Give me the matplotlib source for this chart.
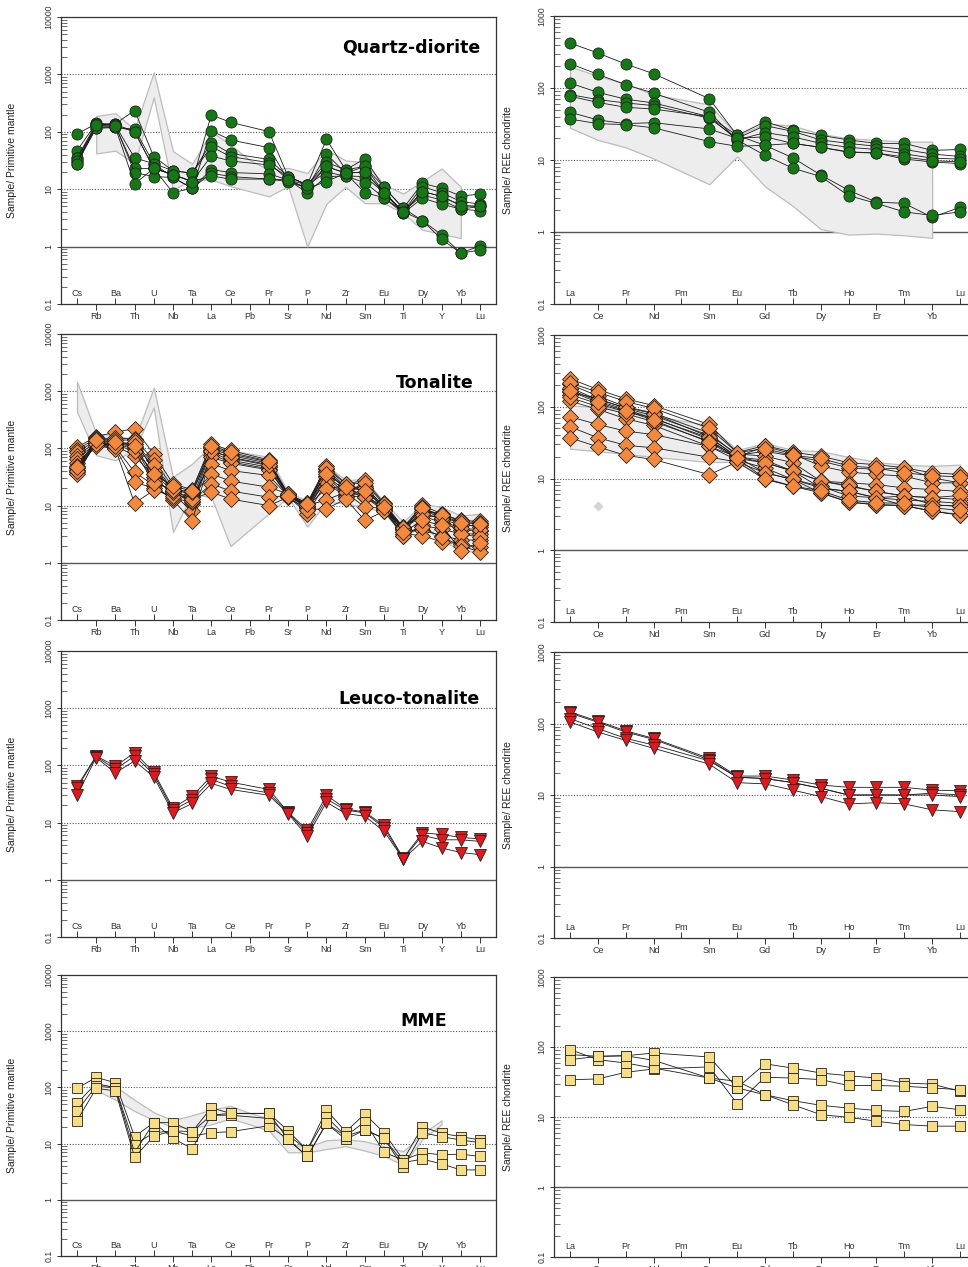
import matplotlib
matplotlib.use('Agg')
import matplotlib.pyplot as plt
import numpy as np

plt.rcParams['font.family'] = ['Liberation Sans', 'DejaVu Sans']

nan = np.nan

# element order on the x axes
spider_elements = ['Cs', 'Rb', 'Ba', 'Th', 'U', 'Nb', 'Ta', 'La', 'Ce', 'Pb', 'Pr',
                   'Sr', 'P', 'Nd', 'Zr', 'Sm', 'Eu', 'Ti', 'Dy', 'Y', 'Yb', 'Lu']
ree_elements = ['La', 'Ce', 'Pr', 'Nd', 'Pm', 'Sm', 'Eu', 'Gd', 'Tb', 'Dy', 'Ho',
                'Er', 'Tm', 'Yb', 'Lu']

# ---- Quartz-diorite ----
# spider: Cs Rb Ba Th U Nb Ta La Ce Pb Pr Sr P Nd Zr Sm Eu Ti Dy Y Yb Lu
qd_spider = [
    [31, 130, 135, 101, 23, 18, 13.6, 198, 146, nan, 101, 16.6, 11.9, 74, 21.7, 25, 10.8, 4.66, 2.84, 1.6, 0.77, 1.03],
    [28, 116, 119, 111, 28, 16, 10.4, 104, 72, nan, 53, 14.5, 10.4, 41, 19, 20, 8.7, 4.08, 2.84, 1.34, 0.77, 0.87],
    [92, 138, 138, 235, 37, 21, 19, 65, 42, nan, 33, 16.6, 11.9, 29.5, 21.7, 34, 10.8, 4.66, 12.7, 10.4, 7.6, 8.2],
    [47, 140, 130, 35, 28, 21, 19, 55, 37, nan, 29, 14.5, 10.4, 24.9, 19, 25, 8.7, 4.08, 11.1, 8.7, 6.1, 5.5],
    [35, 125, 125, 23, 23, 18, 13.6, 38, 31, nan, 26.5, 16.6, 11.9, 19.8, 17, 16.6, 8.7, 3.8, 9.1, 7.5, 5.2, 5.0],
    [35, 138, 130, 19.5, 16.6, 16, 10.4, 22, 19.5, nan, 18.5, 14.5, 8.7, 16.6, 17, 13, 7.1, 4.08, 7.9, 6.5, 4.5, 4.2],
    [31, 116, 119, 12.4, 23, 8.7, 10.4, 19, 16.6, nan, 15, 13.6, 10.4, 13.6, 19, 8.7, 7.1, 3.8, 7.0, 5.5, 4.5, 5.0],
    [28, 130, 125, 101, 23, 18, 13.6, 17, 15, nan, 15, 14.5, 11.9, 24.9, 19, 20, 8.7, 4.08, 9.1, 7.5, 5.2, 5.0],
]
qd_spider_upper = [nan, 189, 211, 110, 1086, 46, 27.7, 100, 60, 32, 22, 23.5, 19.2, 49, 31.7, 29.5, 12, 8.4, 13.7, 23, 11, nan]
qd_spider_lower = [nan, 42, 47, 28, 398, 9.8, 14.7, 14.7, 11.3, 9.2, 7.5, 11.3, 1.0, 5.6, 11, 5.7, 5.7, 3.8, 1.96, 1.67, 1.4, nan]

# REE: La Ce Pr Nd Pm Sm Eu Gd Tb Dy Ho Er Tm Yb Lu
qd_ree = [
    [422, 306, 215, 158, nan, 71, 22, 16, 10.7, 6.2, 3.8, 2.6, 2.5, 1.6, 2.2],
    [218, 155, 111, 85, nan, 46, 19, 11.6, 7.7, 5.9, 3.2, 2.5, 1.9, 1.7, 1.9],
    [117, 87, 70, 62, nan, 40, 22, 34, 26, 22, 19, 17, 17, 13.6, 14],
    [81, 69, 62, 57, nan, 38, 20, 30, 25, 19, 17, 15.5, 14, 12.1, 11.2],
    [77, 63, 54, 51, nan, 40, 19, 24, 21, 17, 15, 14, 12.2, 10.6, 10.3],
    [46, 36, 32, 33, nan, 27, 20, 21, 17, 15, 12.8, 12.5, 10.3, 9.4, 8.9],
    [37, 32, 31, 28, nan, 18, 15.5, 16, 17, 15, 13, 12.5, 11, 9.8, 9.4],
]
qd_ree_upper = [200, 147, 115, 81, nan, 59, 22, 32, 30, 23, 20, 19, 18, 18, nan]
qd_ree_lower = [28, 19, 15, 10.5, nan, 4.6, 11.2, 4.3, 2.3, 1.1, 0.92, 0.95, 0.9, 0.83, nan]

# ---- Tonalite ----
ton_spider = [
    [105, 160, 193, 221, 80, 24, 19, 120, 92, nan, 63, 16, 11, 50, 24, 27.6, 11, 4.2, 10.1, 7.2, 5.5, 5.3],
    [95, 150, 150, 148, 62, 21, 16, 106, 80, nan, 58, 15, 10.5, 44, 21, 20.5, 10, 4.0, 8.8, 6.5, 4.8, 4.2],
    [85, 140, 130, 120, 47, 18, 13, 100, 75, nan, 55, 15.5, 10, 40, 20, 22, 9.4, 4.1, 7.5, 5.9, 4.5, 4.5],
    [75, 130, 120, 98, 36, 18, 10.8, 95, 68, nan, 50, 16, 9.4, 38.6, 19.8, 20, 9.0, 3.9, 6.7, 5.0, 3.8, 3.6],
    [65, 125, 110, 75, 31.6, 16, 8, 86, 62, nan, 47, 15, 9.4, 33, 18, 14, 9, 3.0, 4.5, 3.9, 3.2, 3.2],
    [55, 120, 105, 38.6, 22.6, 12.7, 5.3, 78, 58, nan, 44, 14, 8.5, 31.6, 16, 16, 8.5, 3.7, 3.7, 3.0, 2.5, 2.5],
    [50, 118, 100, 25.8, 20, 13.5, 11.5, 70, 55, nan, 42, 15, 9.0, 28, 15, 14, 8.2, 3.2, 3.0, 2.3, 2.15, 1.88],
    [45, 112, 98, 11, 18.5, 15, 14, 54, 41, nan, 33.6, 14.5, 7.2, 25.8, 14, 20, 8.8, 3.5, 8.2, 7.2, 5.3, 5.0],
    [42, 145, 140, 140, 40, 20, 15, 36, 26.8, nan, 21, 16, 10, 19.8, 22, 14, 10, 4.0, 9.5, 5.5, 4.0, 3.8],
    [38, 135, 125, 105, 28, 17, 12, 24, 18, nan, 14, 15, 10, 12.7, 17, 9.4, 9.0, 4.2, 7.0, 6.0, 3.2, 2.8],
    [35, 128, 115, 90, 25, 19, 13, 17.2, 13, nan, 10, 14, 8.5, 8.8, 13, 5.5, 8.0, 3.0, 4.2, 2.8, 2.0, 1.54],
    [40, 120, 112, 130, 52, 19, 17, 90, 70, nan, 52, 16, 11, 45, 24, 25, 10.5, 4.1, 9.0, 6.8, 5.0, 4.8],
    [48, 140, 130, 110, 35, 22, 18, 112, 85, nan, 60, 15, 10.5, 36, 21, 18, 9.5, 3.4, 5.5, 4.5, 1.64, 2.2],
]
ton_spider_upper = [1459, 182, 170, 140, 1150, 31.6, 54, 113, 93, 81, 71, 17.3, 12, 50.5, 27.7, 29.5, 11.5, 5.2, 10.8, 9.4, 6.7, 7.2]
ton_spider_lower = [437, 76, 62, 95, 520, 3.45, 16, 14, 1.96, 3.8, 7.3, 14, 4.3, 11.6, 10.8, 9.4, 7.7, 3.0, 4.2, 2.5, 1.64, 1.54]

ton_ree = [
    [246, 174, 129, 104, nan, 56.6, 23, 28.8, 23.3, 20.5, 16.6, 15.6, 14.1, 12.0, 11.4],
    [205, 141, 100, 82, nan, 43, 21, 24, 20.5, 17.5, 14.1, 13.4, 14.1, 10.2, 8.7],
    [174, 120, 92, 68, nan, 37, 20, 28, 22, 14.9, 12.3, 11.4, 10.8, 8.7, 8.7],
    [160, 130, 95, 75, nan, 40, 22, 20.5, 16.6, 9.2, 8.7, 8.2, 7.4, 7.0, 6.6],
    [148, 110, 85, 70, nan, 35, 19, 16.6, 12.7, 9.2, 7.8, 6.6, 5.7, 5.4, 5.1],
    [185, 125, 98, 80, nan, 38, 20, 18, 12.7, 7.4, 6.6, 5.4, 4.2, 4.3, 4.1],
    [120, 92, 68, 55, nan, 28, 18, 14, 9.7, 6.3, 4.7, 4.3, 4.2, 3.5, 3.1],
    [135, 100, 80, 62, nan, 33, 20, 12, 9.7, 7.8, 5.7, 5.4, 5.0, 4.8, 4.5],
    [72.6, 56.6, 45.8, 41, nan, 28, 20, 16.6, 12.7, 9.2, 8.0, 6.6, 5.7, 5.4, 5.8],
    [52.6, 37, 29, 26.8, nan, 19.8, 17, 9.7, 7.8, 6.3, 4.7, 4.3, 4.2, 3.5, 3.1],
    [37, 27.6, 21, 18.4, nan, 11.3, 17, 12, 9.7, 7.4, 6.6, 5.4, 5.7, 4.3, 4.1],
    [215, 160, 118, 95, nan, 50, 23, 26, 21, 19, 15, 14, 12, 11, 10.5],
    [165, 115, 88, 65, nan, 32, 19, 10, 7.8, 6.8, 5.0, 4.6, 4.5, 3.9, 3.6],
]
ton_ree_upper = [105, 98, 90, 75, nan, 55, 25, 31, 25, 24, 20, 17, 15.5, 15, 15.6]
ton_ree_lower = [26, 24, 22, 20, nan, 17, 17, 10, 8, 6.5, 5, 4.5, 4.2, 3.6, 3.2]
ton_ree_stray_ce = 4.1

# ---- Leuco-tonalite ----
leuco_spider = [
    [43, 146, 97, 167, 76, 18, 29, 65, 51, nan, 38, 15.2, 7.35, 30, 17.4, 15.2, 8.9, 2.4, 6.6, 6.2, 5.5, 5.2],
    [40, 143, 85, 146, 70, 16.5, 25, 57, 43, nan, 33, 14.8, 6.6, 26, 16.5, 14.8, 8.1, 2.33, 6.0, 5.0, 5.0, 4.7],
    [29.8, 137, 74, 120, 63, 14.8, 21.6, 48.5, 38, nan, 30, 14.4, 5.75, 22.7, 14.4, 12.9, 7.05, 2.3, 4.7, 3.6, 3.0, 2.75],
]
leuco_ree = [
    [145, 108, 79, 62, nan, 32.5, 18.4, 18.4, 16.2, 13.8, 12.8, 12.8, 12.8, 11.7, 11.5],
    [140, 104, 76, 60, nan, 31, 17.7, 17, 14.9, 12.4, 10, 10, 10, 10.6, 10],
    [117, 85, 62, 50, nan, 30, 17.7, 17, 14.9, 12.4, 10, 10, 10, 10, 9.5],
    [105, 76, 58, 45, nan, 27, 14.9, 14.3, 11.7, 9.5, 7.5, 7.8, 7.5, 6.2, 5.85],
]

# ---- MME ----
mme_spider = [
    [96, 151, 121, 13.3, 23.6, 23.6, 16.3, 43.4, 34.5, nan, 34.5, 16.9, 7.7, 39.6, 16.3, 33.6, 15.6, 5.1, 20, 15.2, 13.3, 11.6],
    [52, 118, 98, 9.6, 15.6, 16.9, 13.6, 15.6, 16.3, nan, 20.8, 11.9, 5.9, 22.9, 11.9, 17.5, 12.4, 3.8, 15.6, 13.3, 11.6, 10.4],
    [38.5, 105, 98, 6.9, 23.6, 12.4, 8.1, 32, 32, nan, 28, 14.2, 7.7, 30.2, 13.6, 24.5, 7.0, 5.1, 6.9, 6.3, 6.5, 5.9],
    [25.6, 96, 87, 5.7, 13.6, 16.9, 16.3, 32, 34.5, nan, 34.5, 11.9, 5.9, 22.9, 13.6, 17.5, 12.4, 4.6, 5.3, 4.35, 3.4, 3.4],
]
mme_spider_upper = [nan, 112, 105, 60, 36, 26, 32, 40, 47, 35, 28, 10, 8.7, 11.5, 12, 11, 9, 7.3, 15, 26, nan, nan]
mme_spider_lower = [nan, 90, 60, 38, 26, 20, 19, 22, 28, 22, 17, 7, 7, 8, 9, 7.5, 6, 4.2, 12, 22, nan, nan]

mme_ree = [
    [78, 73.6, 75, 82, nan, 72, 26, 57.5, 50, 42.5, 38.9, 36, 30.6, 29.5, 23.3],
    [34, 35, 43.5, 48.5, nan, 52, 15.5, 37, 36, 34.2, 28.2, 28.2, 27.5, 26, 24.6],
    [92, 66, 59, 50, nan, 36, 26, 20.8, 17.1, 14.7, 13.4, 12.4, 12, 14.2, 12.7],
    [66, 73.6, 75, 64.6, nan, 36, 32.4, 20.8, 15, 10.8, 9.9, 8.7, 7.8, 7.4, 7.4],
]

rock_names = ['Quartz-diorite', 'Tonalite', 'Leuco-tonalite', 'MME']

W, H = 968, 1267
fig = plt.figure(figsize=(W / 100, H / 100), dpi=100)


def rect(x0, y0, x1, y1):
    return [x0 / W, 1 - y1 / H, (x1 - x0) / W, (y1 - y0) / H]


def clean(xs, ys):
    ys = np.asarray(ys, dtype=float)
    m = ~np.isnan(ys)
    return np.asarray(xs)[m], ys[m]


def style_axes(ax, elements, ylim, ylab, xlim):
    pos = np.arange(1, len(elements) + 1)
    ax.set_yscale('log')
    ax.set_ylim(*ylim)
    ax.set_xlim(*xlim)
    for s in ax.spines.values():
        s.set_color('#333333')
        s.set_linewidth(0.9)
    # alternating element labels: above / below the axis
    ax.set_xticks(pos[0::2], elements[0::2])
    ax.set_xticks(pos[1::2], elements[1::2], minor=True)
    ax.tick_params(axis='x', which='major', direction='in', length=4, pad=-11,
                   labelsize=6.5, width=0.7, color='#333333', labelcolor='#333333')
    ax.tick_params(axis='x', which='minor', direction='out', length=4, pad=1.5,
                   labelsize=6.5, width=0.7, color='#333333', labelcolor='#333333')
    decades = [10.0 ** k for k in range(int(np.log10(ylim[0])), int(np.log10(ylim[1])) + 1)]
    ax.set_yticks(decades, ['%g' % d for d in decades])
    ax.yaxis.set_minor_locator(matplotlib.ticker.LogLocator(base=10, subs=np.arange(2, 10)))
    ax.yaxis.set_minor_formatter(matplotlib.ticker.NullFormatter())
    ax.tick_params(axis='y', which='major', direction='out', length=3, width=0.7,
                   labelsize=6.3, labelrotation=90, pad=2.5, color='#333333', labelcolor='#333333')
    ax.tick_params(axis='y', which='minor', direction='in', length=4, width=0.6, color='#555555')
    for lbl in ax.get_yticklabels():
        lbl.set_va('center')
    ax.axhline(1, color='#555555', lw=1.0, zorder=1)
    for v in decades[2:-1]:
        ax.axhline(v, color='#555555', lw=0.8, ls=(0, (1, 1.5)), zorder=1)
    ax.set_ylabel(ylab, fontsize=7.5, color='#222222')
    return pos


def draw_samples(ax, pos, samples, marker, fc, ms):
    for s in samples:
        x, y = clean(pos, s)
        ax.plot(x, y, '-', color='#1a1a1a', lw=0.6, marker=marker, ms=ms,
                mfc=fc, mec='#222222', mew=0.6, zorder=3)


def draw_field(ax, pos, upper, lower):
    x, up = clean(pos, upper)
    _, lo = clean(pos, lower)
    ax.fill_between(x, lo, up, facecolor='#ededed', edgecolor='#bcbcbc', lw=0.9, zorder=2)


left_rows = [(17, 304), (334, 620), (651, 937), (975, 1256)]
right_rows = [(16, 304), (335, 622), (652, 938), (977, 1257)]

spider_sets = [qd_spider, ton_spider, leuco_spider, mme_spider]
ree_sets = [qd_ree, ton_ree, leuco_ree, mme_ree]
spider_fields = [(qd_spider_upper, qd_spider_lower), (ton_spider_upper, ton_spider_lower),
                 None, (mme_spider_upper, mme_spider_lower)]
ree_fields = [(qd_ree_upper, qd_ree_lower), (ton_ree_upper, ton_ree_lower), None, None]
markers = [('o', '#137a13', 8), ('D', '#f5883a', 7.8), ('v', '#e8161a', 9), ('s', '#f8de82', 7.5)]
title_pos = [(0.963, 0.895), (0.949, 0.829), (0.963, 0.832), (0.887, 0.836)]

for i in range(4):
    mk, fc, ms = markers[i]

    axl = fig.add_axes(rect(61, left_rows[i][0], 496, left_rows[i][1]))
    pos = style_axes(axl, spider_elements, (0.1, 10000), 'Sample/ Primitive mantle',
                     (1 - 16 / 19.19, 22 + 16 / 19.19))
    axl.yaxis.set_label_coords(-0.101, 0.5)
    if spider_fields[i] is not None:
        draw_field(axl, pos, *spider_fields[i])
    draw_samples(axl, pos, spider_sets[i], mk, fc, ms)
    axl.text(title_pos[i][0], title_pos[i][1], rock_names[i], transform=axl.transAxes,
             ha='right', va='center', fontsize=12.5, fontweight='bold',
             family='DejaVu Sans', color='black', zorder=5)

    axr = fig.add_axes(rect(554, right_rows[i][0], 976, right_rows[i][1]))
    posr = style_axes(axr, ree_elements, (0.1, 1000), 'Sample/ REE chondrite',
                      (1 - 16 / 27.86, 15 + 16 / 27.86))
    axr.yaxis.set_label_coords(-0.097, 0.5)
    if ree_fields[i] is not None:
        draw_field(axr, posr, *ree_fields[i])
    if i == 1:
        axr.plot(posr[1], ton_ree_stray_ce, marker='D', ms=5.5, color='#d4d4d4', mec='none', zorder=2)
    draw_samples(axr, posr, ree_sets[i], mk, fc, ms)

fig.savefig('out.png', dpi=100)
